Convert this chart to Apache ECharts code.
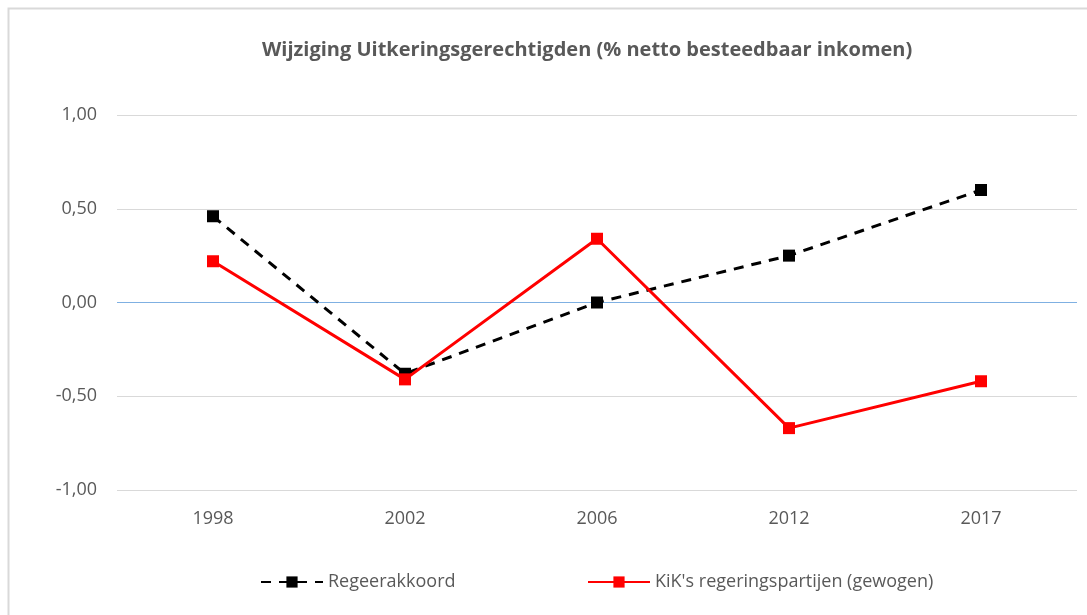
<!DOCTYPE html>
<html>
<head>
<meta charset="utf-8">
<script src="https://cdn.jsdelivr.net/npm/echarts@6/dist/echarts.min.js"></script>
<style>
  html, body { margin: 0; padding: 0; background: #fff; }
  #chart { width: 1087px; height: 615px; }
</style>
</head>
<body>
<div id="chart"></div>
<script>
const years = ['1998', '2002', '2006', '2012', '2017'];
const regeerakkoord = [0.46, -0.38, 0.0, 0.25, 0.60];
const kik = [0.22, -0.41, 0.34, -0.67, -0.42];
const seriesNames = ['Regeerakkoord', "KiK's regeringspartijen (gewogen)"];

const chart = echarts.init(document.getElementById('chart'));
const textColor = '#595959';
const font = 'Open Sans';

const option = {
  animation: false,
  title: {
    text: 'Wijziging Uitkeringsgerechtigden (% netto besteedbaar inkomen)',
    left: 257,
    top: 35,
    textStyle: { fontFamily: font, fontSize: 20, fontWeight: 'bold', color: textColor }
  },
  graphic: [{
    type: 'rect',
    shape: { x: 8.5, y: 8.5, width: 1100, height: 620 },
    style: { fill: 'none', stroke: '#d9d9d9', lineWidth: 2 },
    silent: true
  }],
  grid: { left: 117, right: 10, top: 115, bottom: 125 },
  legend: [{
    data: [seriesNames[0]],
    left: 255,
    top: 568,
    itemWidth: 62,
    itemHeight: 14,
    textStyle: { fontFamily: font, fontSize: 18, color: textColor }
  }, {
    data: [seriesNames[1]],
    left: 582,
    top: 568,
    itemWidth: 62,
    itemHeight: 14,
    textStyle: { fontFamily: font, fontSize: 18, color: textColor }
  }],
  xAxis: {
    type: 'category',
    data: years,
    boundaryGap: true,
    axisLine: { show: false },
    axisTick: { show: false },
    axisLabel: { fontFamily: font, fontSize: 18, color: textColor, margin: 20 }
  },
  yAxis: {
    type: 'value',
    min: -1,
    max: 1,
    interval: 0.5,
    axisLine: { show: false },
    axisTick: { show: false },
    axisLabel: {
      fontFamily: font, fontSize: 18, color: textColor, margin: 20,
      formatter: v => v.toFixed(2).replace('.', ',')
    },
    splitLine: {
      lineStyle: {
        color: ['#d9d9d9', '#d9d9d9', '#7fb0e2', '#d9d9d9', '#d9d9d9'],
        width: 1
      }
    }
  },
  series: [{
    name: seriesNames[0],
    type: 'line',
    data: regeerakkoord,
    symbol: 'rect',
    symbolSize: 12,
    itemStyle: { color: '#000' },
    lineStyle: { color: '#000', width: 3, type: [10, 8] },
    z: 2
  }, {
    name: seriesNames[1],
    type: 'line',
    data: kik,
    symbol: 'rect',
    symbolSize: 12,
    itemStyle: { color: '#ff0000' },
    lineStyle: { color: '#ff0000', width: 3 },
    z: 3
  }]
};
chart.setOption(option);
</script>
</body>
</html>
